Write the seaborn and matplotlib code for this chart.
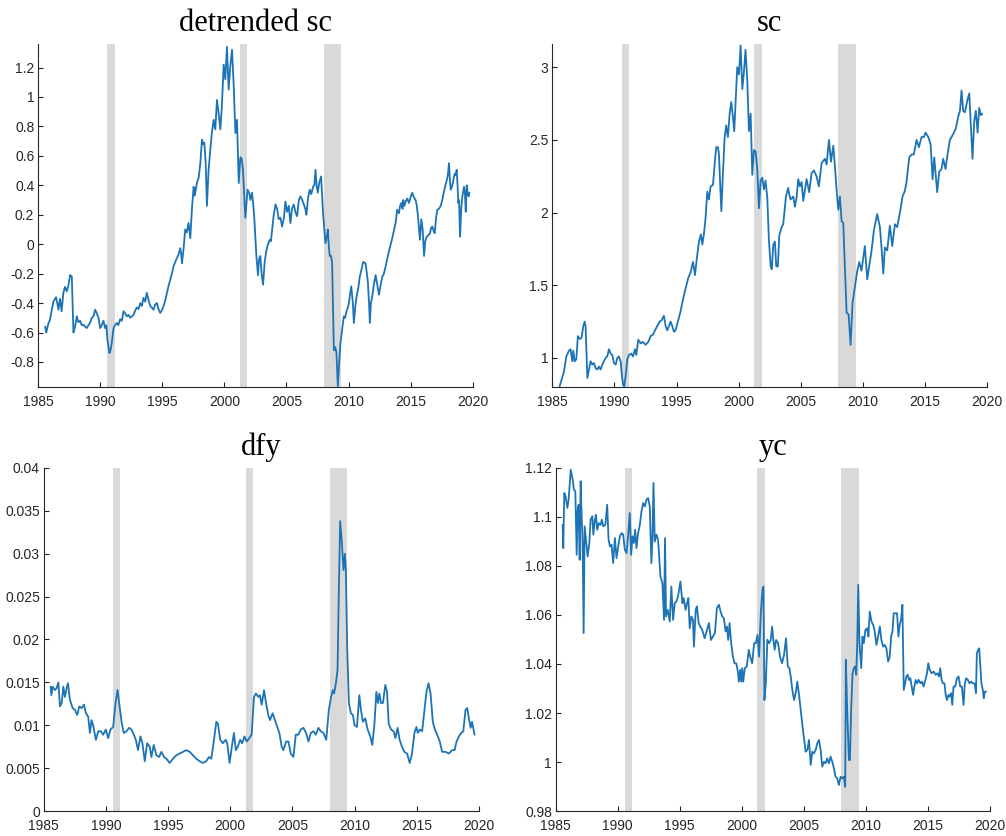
import matplotlib
matplotlib.use("Agg")
import matplotlib.pyplot as plt
import numpy as np
import pandas as pd
import seaborn as sns
from matplotlib.ticker import FuncFormatter

# ---------------------------------------------------------------- data
# detrended stock-market capitalisation (decimal year, value)
detr_t = [1985.58, 1985.66, 1985.83, 1985.97, 1986.12, 1986.24, 1986.45, 1986.55, 1986.64, 1986.77,
          1986.90, 1987.04, 1987.17, 1987.31, 1987.45, 1987.58, 1987.72, 1987.85, 1987.98, 1988.12,
          1988.25, 1988.39, 1988.52, 1988.66, 1988.80, 1988.92, 1989.06, 1989.19, 1989.33, 1989.46,
          1989.60, 1989.73, 1989.87, 1990.00, 1990.13, 1990.27, 1990.40, 1990.50, 1990.59, 1990.75,
          1990.84, 1990.94, 1991.08, 1991.20, 1991.34, 1991.47, 1991.61, 1991.75, 1991.88, 1992.02,
          1992.15, 1992.28, 1992.42, 1992.55, 1992.69, 1992.83, 1992.96, 1993.10, 1993.23, 1993.36,
          1993.49, 1993.63, 1993.76, 1993.90, 1994.03, 1994.16, 1994.30, 1994.43, 1994.57, 1994.70,
          1994.84, 1994.97, 1995.11, 1995.25, 1995.38, 1995.52, 1995.65, 1995.78, 1995.91, 1996.05,
          1996.18, 1996.32, 1996.45, 1996.52, 1996.59, 1996.72, 1996.85, 1996.98, 1997.12, 1997.26,
          1997.40, 1997.53, 1997.60, 1997.66, 1997.80, 1997.93, 1998.07, 1998.20, 1998.30, 1998.39,
          1998.50, 1998.60, 1998.73, 1998.87, 1999.00, 1999.14, 1999.27, 1999.41, 1999.54, 1999.68,
          1999.81, 1999.95, 2000.08, 2000.21, 2000.35, 2000.48, 2000.62, 2000.75, 2000.89, 2001.02,
          2001.16, 2001.29, 2001.40, 2001.50, 2001.69, 2001.87, 2002.00, 2002.10, 2002.23, 2002.32,
          2002.42, 2002.58, 2002.71, 2002.80, 2002.90, 2003.00, 2003.12, 2003.25, 2003.39, 2003.52,
          2003.66, 2003.75, 2003.85, 2003.98, 2004.12, 2004.25, 2004.38, 2004.52, 2004.65, 2004.80,
          2004.92, 2005.05, 2005.19, 2005.32, 2005.45, 2005.59, 2005.72, 2005.86, 2006.00, 2006.13,
          2006.27, 2006.40, 2006.52, 2006.61, 2006.75, 2006.88, 2007.00, 2007.15, 2007.25, 2007.34,
          2007.43, 2007.52, 2007.65, 2007.79, 2007.95, 2008.05, 2008.14, 2008.25, 2008.33, 2008.42,
          2008.49, 2008.60, 2008.68, 2008.82, 2008.93, 2009.03, 2009.14, 2009.25, 2009.35, 2009.50,
          2009.62, 2009.72, 2009.84, 2009.95, 2010.03, 2010.12, 2010.22, 2010.35, 2010.43, 2010.55,
          2010.65, 2010.78, 2010.91, 2011.05, 2011.18, 2011.37, 2011.48, 2011.56, 2011.65, 2011.72,
          2011.80, 2011.91, 2012.05, 2012.18, 2012.30, 2012.45, 2012.58, 2012.72, 2012.85, 2012.99,
          2013.12, 2013.25, 2013.40, 2013.52, 2013.65, 2013.79, 2013.92, 2014.06, 2014.15, 2014.25,
          2014.35, 2014.41, 2014.50, 2014.60, 2014.73, 2014.87, 2015.00, 2015.13, 2015.25, 2015.40,
          2015.50, 2015.59, 2015.68, 2015.75, 2015.86, 2015.97, 2016.08, 2016.18, 2016.29, 2016.42,
          2016.56, 2016.65, 2016.75, 2016.85, 2016.94, 2017.05, 2017.15, 2017.28, 2017.42, 2017.55,
          2017.69, 2017.80, 2017.90, 2018.00, 2018.09, 2018.17, 2018.23, 2018.36, 2018.45, 2018.55,
          2018.63, 2018.71, 2018.78, 2018.84, 2018.90, 2018.98, 2019.08, 2019.17, 2019.30, 2019.37,
          2019.44, 2019.52, 2019.60, 2019.68, 2019.73]
detr_v = [-0.56, -0.60, -0.54, -0.51, -0.44, -0.39, -0.36, -0.40, -0.445, -0.37,
          -0.456, -0.33, -0.29, -0.32, -0.28, -0.21, -0.22, -0.60, -0.56, -0.49,
          -0.53, -0.52, -0.55, -0.547, -0.56, -0.57, -0.55, -0.535, -0.50, -0.49,
          -0.445, -0.47, -0.50, -0.57, -0.55, -0.52, -0.57, -0.55, -0.65, -0.74,
          -0.72, -0.67, -0.57, -0.55, -0.535, -0.55, -0.51, -0.52, -0.455, -0.47,
          -0.49, -0.48, -0.50, -0.49, -0.48, -0.45, -0.43, -0.44, -0.40, -0.42,
          -0.365, -0.39, -0.33, -0.38, -0.42, -0.43, -0.445, -0.41, -0.40, -0.44,
          -0.467, -0.45, -0.42, -0.38, -0.33, -0.28, -0.24, -0.20, -0.15, -0.12,
          -0.094, -0.07, -0.027, -0.06, -0.13, -0.03, 0.10, 0.08, 0.144, 0.04,
          0.25, 0.39, 0.33, 0.35, 0.42, 0.45, 0.55, 0.71, 0.68, 0.69,
          0.55, 0.26, 0.50, 0.64, 0.76, 0.845, 0.78, 0.98, 0.89, 0.78,
          0.95, 1.22, 1.12, 1.34, 1.05, 1.21, 1.32, 1.09, 0.755, 0.845,
          0.415, 0.59, 0.58, 0.505, 0.18, 0.37, 0.35, 0.30, 0.35, 0.28,
          0.17, -0.08, -0.21, -0.10, -0.08, -0.20, -0.275, -0.12, -0.04, 0.00,
          0.03, 0.02, 0.10, 0.20, 0.27, 0.24, 0.17, 0.18, 0.12, 0.18,
          0.29, 0.22, 0.26, 0.143, 0.24, 0.27, 0.22, 0.19, 0.30, 0.325,
          0.30, 0.27, 0.24, 0.20, 0.32, 0.37, 0.34, 0.39, 0.40, 0.505,
          0.40, 0.35, 0.42, 0.46, 0.21, 0.10, 0.007, 0.05, 0.10, -0.02,
          -0.08, -0.08, -0.13, -0.72, -0.70, -0.74, -0.965, -0.80, -0.67, -0.57,
          -0.49, -0.50, -0.455, -0.43, -0.40, -0.34, -0.286, -0.40, -0.535, -0.42,
          -0.355, -0.30, -0.22, -0.17, -0.12, -0.13, -0.20, -0.26, -0.40, -0.535,
          -0.40, -0.355, -0.27, -0.21, -0.27, -0.343, -0.28, -0.22, -0.20, -0.15,
          -0.10, -0.05, 0.00, 0.04, 0.09, 0.144, 0.234, 0.21, 0.26, 0.28,
          0.24, 0.30, 0.26, 0.29, 0.31, 0.28, 0.32, 0.35, 0.32, 0.30,
          0.26, 0.19, 0.10, 0.03, 0.17, 0.10, -0.08, 0.02, 0.05, 0.06,
          0.075, 0.11, 0.12, 0.09, 0.075, 0.18, 0.234, 0.24, 0.26, 0.30,
          0.36, 0.40, 0.43, 0.47, 0.55, 0.43, 0.37, 0.40, 0.44, 0.48,
          0.47, 0.505, 0.40, 0.28, 0.30, 0.05, 0.25, 0.325, 0.39, 0.35,
          0.22, 0.40, 0.34, 0.325, 0.35]

# stock-market capitalisation
sc_t = [1985.59, 1985.75, 1985.94, 1986.13, 1986.34, 1986.47, 1986.61, 1986.69, 1986.80, 1986.93,
        1987.06, 1987.23, 1987.36, 1987.49, 1987.60, 1987.68, 1987.82, 1987.95, 1988.08, 1988.22,
        1988.35, 1988.49, 1988.62, 1988.75, 1988.89, 1989.02, 1989.16, 1989.29, 1989.42, 1989.56,
        1989.69, 1989.83, 1989.96, 1990.10, 1990.23, 1990.36, 1990.50, 1990.58, 1990.69, 1990.79,
        1990.90, 1991.03, 1991.17, 1991.36, 1991.49, 1991.65, 1991.76, 1991.92, 1992.11, 1992.29,
        1992.51, 1992.72, 1992.91, 1993.10, 1993.26, 1993.45, 1993.64, 1993.80, 1993.98, 1994.12,
        1994.25, 1994.39, 1994.52, 1994.65, 1994.79, 1994.92, 1995.14, 1995.32, 1995.51, 1995.73,
        1995.94, 1996.13, 1996.32, 1996.48, 1996.61, 1996.80, 1996.96, 1997.07, 1997.20, 1997.34,
        1997.47, 1997.60, 1997.74, 1997.93, 1998.09, 1998.19, 1998.33, 1998.41, 1998.49, 1998.60,
        1998.73, 1998.86, 1998.99, 1999.13, 1999.27, 1999.40, 1999.53, 1999.64, 1999.75, 1999.88,
        2000.02, 2000.15, 2000.29, 2000.42, 2000.55, 2000.69, 2000.82, 2000.96, 2001.09, 2001.22,
        2001.36, 2001.49, 2001.63, 2001.76, 2001.89, 2002.03, 2002.16, 2002.30, 2002.43, 2002.57,
        2002.66, 2002.78, 2002.91, 2003.02, 2003.15, 2003.26, 2003.45, 2003.58, 2003.80, 2003.98,
        2004.08, 2004.17, 2004.39, 2004.52, 2004.65, 2004.79, 2004.92, 2005.06, 2005.19, 2005.32,
        2005.46, 2005.67, 2005.86, 2006.05, 2006.26, 2006.45, 2006.67, 2006.93, 2007.07, 2007.26,
        2007.42, 2007.61, 2007.74, 2007.87, 2008.01, 2008.14, 2008.28, 2008.41, 2008.54, 2008.68,
        2008.84, 2009.00, 2009.16, 2009.35, 2009.54, 2009.70, 2009.88, 2010.15, 2010.34, 2010.50,
        2010.69, 2010.88, 2011.14, 2011.36, 2011.49, 2011.63, 2011.76, 2011.95, 2012.16, 2012.35,
        2012.57, 2012.75, 2012.97, 2013.18, 2013.37, 2013.50, 2013.72, 2013.91, 2014.09, 2014.31,
        2014.50, 2014.71, 2014.90, 2015.03, 2015.25, 2015.44, 2015.60, 2015.73, 2015.97, 2016.13,
        2016.32, 2016.45, 2016.64, 2016.80, 2016.99, 2017.26, 2017.47, 2017.66, 2017.80, 2017.93,
        2018.06, 2018.20, 2018.39, 2018.55, 2018.68, 2018.81, 2018.95, 2019.08, 2019.22, 2019.35,
        2019.49, 2019.59]
sc_v = [0.805, 0.85, 0.908, 1.01, 1.05, 1.06, 0.977, 1.05, 0.977, 0.99,
        1.15, 1.13, 1.14, 1.217, 1.25, 1.217, 0.862, 0.92, 0.977, 0.954,
        0.965, 0.93, 0.92, 0.94, 0.92, 0.954, 0.977, 1.00, 1.01, 1.06,
        1.03, 1.02, 0.965, 0.954, 1.00, 1.01, 0.977, 0.897, 0.817, 0.805,
        0.874, 0.99, 1.02, 1.03, 1.01, 1.06, 1.02, 1.125, 1.10, 1.11,
        1.09, 1.11, 1.15, 1.16, 1.19, 1.22, 1.25, 1.26, 1.29, 1.22,
        1.19, 1.22, 1.25, 1.22, 1.18, 1.19, 1.26, 1.32, 1.40, 1.48,
        1.55, 1.59, 1.66, 1.57, 1.67, 1.80, 1.85, 1.78, 1.85, 1.97,
        2.145, 2.09, 2.18, 2.19, 2.36, 2.45, 2.45, 2.40, 2.23, 2.01,
        2.27, 2.51, 2.60, 2.52, 2.68, 2.76, 2.66, 2.56, 2.76, 3.00,
        2.95, 3.15, 2.85, 2.97, 3.12, 2.91, 2.56, 2.68, 2.26, 2.43,
        2.42, 2.30, 2.03, 2.22, 2.24, 2.16, 2.22, 2.10, 1.81, 1.63,
        1.61, 1.78, 1.80, 1.63, 1.63, 1.84, 1.90, 1.92, 2.11, 2.17,
        2.12, 2.09, 2.11, 2.04, 2.10, 2.23, 2.18, 2.21, 2.08, 2.15,
        2.23, 2.14, 2.27, 2.29, 2.25, 2.18, 2.34, 2.37, 2.33, 2.50,
        2.35, 2.46, 2.32, 2.16, 2.02, 2.11, 1.94, 1.93, 1.63, 1.31,
        1.30, 1.09, 1.38, 1.49, 1.60, 1.66, 1.60, 1.77, 1.54, 1.63,
        1.74, 1.88, 1.99, 1.90, 1.76, 1.58, 1.76, 1.74, 1.91, 1.77,
        1.92, 1.90, 2.00, 2.11, 2.15, 2.21, 2.38, 2.40, 2.40, 2.50,
        2.45, 2.52, 2.52, 2.55, 2.52, 2.47, 2.23, 2.38, 2.14, 2.28,
        2.30, 2.37, 2.30, 2.40, 2.50, 2.54, 2.58, 2.66, 2.70, 2.84,
        2.70, 2.69, 2.77, 2.82, 2.59, 2.37, 2.63, 2.70, 2.55, 2.72,
        2.67, 2.68]

# default yield spread
dfy_t = [1985.56, 1985.62, 1985.72, 1985.90, 1986.03, 1986.18, 1986.31, 1986.45, 1986.58, 1986.71,
         1986.84, 1986.95, 1987.11, 1987.33, 1987.51, 1987.70, 1987.86, 1988.05, 1988.24, 1988.40,
         1988.58, 1988.72, 1988.85, 1988.98, 1989.20, 1989.39, 1989.60, 1989.79, 1990.00, 1990.19,
         1990.37, 1990.59, 1990.78, 1990.94, 1991.07, 1991.26, 1991.44, 1991.66, 1991.87, 1992.06,
         1992.25, 1992.41, 1992.59, 1992.78, 1992.94, 1993.13, 1993.32, 1993.53, 1993.66, 1993.85,
         1994.06, 1994.28, 1994.47, 1994.68, 1994.87, 1995.13, 1995.40, 1995.67, 1995.94, 1996.20,
         1996.47, 1996.74, 1997.01, 1997.27, 1997.54, 1997.81, 1998.07, 1998.29, 1998.48, 1998.66,
         1998.88, 1999.01, 1999.20, 1999.41, 1999.63, 1999.76, 1999.95, 2000.13, 2000.30, 2000.45,
         2000.61, 2000.80, 2000.96, 2001.15, 2001.32, 2001.53, 2001.72, 2001.91, 2002.07, 2002.26,
         2002.39, 2002.53, 2002.72, 2002.88, 2003.06, 2003.20, 2003.41, 2003.60, 2003.79, 2003.95,
         2004.14, 2004.27, 2004.49, 2004.68, 2004.87, 2005.08, 2005.27, 2005.48, 2005.67, 2005.89,
         2006.10, 2006.29, 2006.48, 2006.69, 2006.88, 2007.10, 2007.28, 2007.50, 2007.72, 2007.93,
         2008.11, 2008.25, 2008.35, 2008.52, 2008.63, 2008.73, 2008.84, 2008.98, 2009.11, 2009.22,
         2009.30, 2009.41, 2009.54, 2009.70, 2009.86, 2010.00, 2010.19, 2010.38, 2010.51, 2010.67,
         2010.86, 2011.05, 2011.26, 2011.42, 2011.59, 2011.75, 2011.88, 2011.99, 2012.12, 2012.28,
         2012.47, 2012.61, 2012.74, 2012.93, 2013.14, 2013.28, 2013.46, 2013.62, 2013.81, 2014.00,
         2014.22, 2014.43, 2014.62, 2014.81, 2014.97, 2015.08, 2015.24, 2015.43, 2015.62, 2015.78,
         2015.94, 2016.11, 2016.29, 2016.46, 2016.64, 2016.85, 2017.04, 2017.31, 2017.58, 2017.85,
         2018.04, 2018.20, 2018.39, 2018.58, 2018.74, 2018.92, 2019.06, 2019.19, 2019.33, 2019.44,
         2019.54, 2019.65]
dfy_v = [0.0145, 0.0135, 0.0145, 0.0141, 0.0143, 0.0150, 0.0122, 0.0126, 0.0145, 0.0133,
         0.0143, 0.0149, 0.0130, 0.0120, 0.0118, 0.0112, 0.0122, 0.0120, 0.0124, 0.0114,
         0.0110, 0.0091, 0.0106, 0.0100, 0.0083, 0.0093, 0.0093, 0.0089, 0.0095, 0.0085,
         0.0095, 0.0098, 0.0126, 0.0141, 0.0126, 0.0104, 0.0091, 0.0093, 0.0097, 0.0095,
         0.0089, 0.0083, 0.0071, 0.0087, 0.0079, 0.0058, 0.0079, 0.0075, 0.0063, 0.0077,
         0.0065, 0.0063, 0.0069, 0.0063, 0.0061, 0.0056, 0.0061, 0.0065, 0.0067, 0.0069,
         0.0071, 0.0069, 0.0065, 0.0061, 0.0058, 0.0056, 0.0058, 0.0063, 0.0061, 0.0079,
         0.0104, 0.0102, 0.0083, 0.0079, 0.0083, 0.0079, 0.0056, 0.0075, 0.0091, 0.0071,
         0.0075, 0.0083, 0.0079, 0.0087, 0.0081, 0.0085, 0.0089, 0.0133, 0.0137, 0.0133,
         0.0135, 0.0124, 0.0141, 0.0126, 0.0112, 0.0106, 0.0114, 0.0106, 0.0098, 0.0091,
         0.0075, 0.0071, 0.0081, 0.0081, 0.0067, 0.0063, 0.0089, 0.0089, 0.0095, 0.0097,
         0.0091, 0.0081, 0.0091, 0.0093, 0.0089, 0.0097, 0.0093, 0.0091, 0.0083, 0.0118,
         0.0133, 0.0141, 0.0137, 0.0151, 0.0165, 0.0254, 0.0338, 0.0312, 0.0281, 0.0300,
         0.0281, 0.0188, 0.0126, 0.0114, 0.0112, 0.0100, 0.0098, 0.0135, 0.0118, 0.0104,
         0.0108, 0.0095, 0.0087, 0.0077, 0.0100, 0.0139, 0.0126, 0.0137, 0.0126, 0.0126,
         0.0147, 0.0139, 0.0102, 0.0095, 0.0093, 0.0085, 0.0097, 0.0083, 0.0075, 0.0069,
         0.0067, 0.0056, 0.0067, 0.0091, 0.0098, 0.0091, 0.0095, 0.0093, 0.0118, 0.0139,
         0.0149, 0.0137, 0.0104, 0.0095, 0.0089, 0.0081, 0.0069, 0.0069, 0.0067, 0.0071,
         0.0071, 0.0081, 0.0087, 0.0091, 0.0093, 0.0118, 0.0120, 0.0108, 0.0097, 0.0104,
         0.0097, 0.0089]

# yield curve
yc_t = [1985.56, 1985.61, 1985.69, 1985.80, 1985.94, 1986.04, 1986.21, 1986.37, 1986.47, 1986.58,
        1986.69, 1986.77, 1986.85, 1986.93, 1987.01, 1987.09, 1987.17, 1987.25, 1987.33, 1987.44,
        1987.57, 1987.71, 1987.81, 1987.95, 1988.03, 1988.16, 1988.24, 1988.35, 1988.48, 1988.62,
        1988.72, 1988.83, 1989.00, 1989.15, 1989.26, 1989.37, 1989.50, 1989.63, 1989.77, 1989.90,
        1990.04, 1990.17, 1990.30, 1990.44, 1990.57, 1990.71, 1990.84, 1990.97, 1991.08, 1991.19,
        1991.30, 1991.40, 1991.51, 1991.64, 1991.78, 1991.91, 1992.05, 1992.18, 1992.31, 1992.45,
        1992.58, 1992.71, 1992.80, 1992.88, 1992.98, 1993.12, 1993.25, 1993.44, 1993.60, 1993.73,
        1993.81, 1993.89, 1994.03, 1994.19, 1994.32, 1994.46, 1994.59, 1994.72, 1994.86, 1995.05,
        1995.21, 1995.31, 1995.47, 1995.58, 1995.69, 1995.80, 1995.93, 1996.06, 1996.14, 1996.28,
        1996.38, 1996.52, 1996.65, 1996.81, 1997.00, 1997.19, 1997.35, 1997.51, 1997.67, 1997.83,
        1997.99, 1998.15, 1998.29, 1998.42, 1998.55, 1998.69, 1998.80, 1998.90, 1999.01, 1999.14,
        1999.28, 1999.41, 1999.55, 1999.68, 1999.76, 1999.87, 1999.95, 2000.03, 2000.11, 2000.24,
        2000.40, 2000.56, 2000.67, 2000.83, 2000.99, 2001.13, 2001.26, 2001.39, 2001.53, 2001.66,
        2001.74, 2001.82, 2001.93, 2002.06, 2002.20, 2002.33, 2002.44, 2002.54, 2002.65, 2002.76,
        2002.92, 2003.08, 2003.24, 2003.40, 2003.56, 2003.70, 2003.83, 2003.94, 2004.07, 2004.21,
        2004.34, 2004.47, 2004.61, 2004.74, 2004.88, 2005.01, 2005.14, 2005.28, 2005.41, 2005.55,
        2005.68, 2005.81, 2005.95, 2006.08, 2006.22, 2006.35, 2006.48, 2006.62, 2006.75, 2006.88,
        2007.02, 2007.15, 2007.29, 2007.42, 2007.55, 2007.69, 2007.82, 2007.96, 2008.09, 2008.22,
        2008.33, 2008.38, 2008.49, 2008.63, 2008.71, 2008.81, 2008.92, 2009.03, 2009.13, 2009.22,
        2009.30, 2009.38, 2009.48, 2009.62, 2009.72, 2009.83, 2009.96, 2010.10, 2010.20, 2010.31,
        2010.45, 2010.58, 2010.69, 2010.85, 2010.98, 2011.12, 2011.25, 2011.39, 2011.52, 2011.65,
        2011.79, 2011.92, 2012.03, 2012.14, 2012.24, 2012.38, 2012.51, 2012.62, 2012.72, 2012.83,
        2012.94, 2013.05, 2013.15, 2013.26, 2013.37, 2013.47, 2013.58, 2013.69, 2013.80, 2013.90,
        2014.01, 2014.12, 2014.25, 2014.39, 2014.52, 2014.65, 2014.79, 2014.92, 2015.03, 2015.14,
        2015.30, 2015.46, 2015.62, 2015.78, 2015.89, 2015.99, 2016.10, 2016.21, 2016.33, 2016.43,
        2016.54, 2016.65, 2016.75, 2016.86, 2016.96, 2017.06, 2017.20, 2017.33, 2017.47, 2017.60,
        2017.73, 2017.87, 2017.97, 2018.08, 2018.22, 2018.35, 2018.49, 2018.62, 2018.76, 2018.87,
        2018.94, 2019.05, 2019.13, 2019.21, 2019.31, 2019.42, 2019.50, 2019.58, 2019.69]
yc_v = [1.0968, 1.0873, 1.1098, 1.1084, 1.1037, 1.1071, 1.1193, 1.1152, 1.1111, 1.1105,
        1.0846, 1.1030, 1.1050, 1.0825, 1.1146, 1.1003, 1.0894, 1.0526, 1.0962, 1.0907,
        1.0839, 1.0894, 1.0989, 1.1003, 1.0928, 1.0989, 1.1009, 1.0948, 1.0975, 1.0968,
        1.0989, 1.0962, 1.0968, 1.1050, 1.0907, 1.0880, 1.0887, 1.0812, 1.0914, 1.0832,
        1.0880, 1.0921, 1.0934, 1.0928, 1.0866, 1.0853, 1.0928, 1.1016, 1.0846, 1.0921,
        1.0894, 1.0948, 1.0873, 1.0934, 1.0968, 1.1023, 1.1057, 1.1043, 1.1071, 1.1077,
        1.1043, 1.0812, 1.0921, 1.1139, 1.0900, 1.0928, 1.0907, 1.0757, 1.0730, 1.0580,
        1.0914, 1.0594, 1.0621, 1.0573, 1.0716, 1.0580, 1.0648, 1.0655, 1.0676, 1.0737,
        1.0648, 1.0669, 1.0621, 1.0648, 1.0669, 1.0546, 1.0594, 1.0580, 1.0471, 1.0621,
        1.0635, 1.0567, 1.0553, 1.0539, 1.0505, 1.0539, 1.0567, 1.0498, 1.0512, 1.0526,
        1.0628, 1.0642, 1.0614, 1.0594, 1.0587, 1.0533, 1.0553, 1.0498, 1.0567, 1.0485,
        1.0430, 1.0403, 1.0403, 1.0369, 1.0328, 1.0376, 1.0328, 1.0383, 1.0328, 1.0383,
        1.0390, 1.0458, 1.0430, 1.0403, 1.0485, 1.0485, 1.0519, 1.0430, 1.0608, 1.0703,
        1.0716, 1.0253, 1.0321, 1.0499, 1.0485, 1.0498, 1.0553, 1.0498, 1.0458, 1.0498,
        1.0485, 1.0430, 1.0403, 1.0437, 1.0505, 1.0390, 1.0383, 1.0349, 1.0294, 1.0253,
        1.0281, 1.0328, 1.0274, 1.0213, 1.0151, 1.0097, 1.0042, 1.0049, 1.0090, 0.9988,
        1.0042, 1.0035, 1.0049, 1.0076, 1.0090, 1.0049, 0.9981, 1.0001, 0.9995, 1.0015,
        0.9995, 1.0022, 1.0001, 0.9974, 0.9940, 0.9933, 0.9906, 0.9940, 0.9933, 0.9940,
        0.9899, 1.0417, 1.0213, 1.0008, 1.0008, 1.0213, 1.0362, 1.0383, 1.0390, 1.0356,
        1.0485, 1.0723, 1.0485, 1.0383, 1.0512, 1.0485, 1.0539, 1.0546, 1.0512, 1.0614,
        1.0573, 1.0560, 1.0539, 1.0478, 1.0512, 1.0553, 1.0498, 1.0471, 1.0478, 1.0464,
        1.0410, 1.0430, 1.0512, 1.0533, 1.0607, 1.0607, 1.0607, 1.0512, 1.0560, 1.0580,
        1.0642, 1.0294, 1.0321, 1.0349, 1.0356, 1.0335, 1.0342, 1.0308, 1.0274, 1.0308,
        1.0335, 1.0321, 1.0335, 1.0321, 1.0328, 1.0308, 1.0335, 1.0362, 1.0403, 1.0376,
        1.0362, 1.0369, 1.0356, 1.0362, 1.0349, 1.0383, 1.0335, 1.0321, 1.0321, 1.0274,
        1.0253, 1.0274, 1.0267, 1.0281, 1.0233, 1.0308, 1.0308, 1.0342, 1.0349, 1.0308,
        1.0308, 1.0233, 1.0321, 1.0342, 1.0335, 1.0321, 1.0328, 1.0321, 1.0321, 1.0281,
        1.0444, 1.0458, 1.0464, 1.0403, 1.0321, 1.0294, 1.0260, 1.0287, 1.0287]

# NBER recessions (start, end) in decimal years
recession_start = [1990.583, 2001.25, 2008.0]
recession_end = [1991.167, 2001.833, 2009.417]

year_ticks = [1985, 1990, 1995, 2000, 2005, 2010, 2015, 2020]
detr_ticks = [-0.8, -0.6, -0.4, -0.2, 0, 0.2, 0.4, 0.6, 0.8, 1, 1.2]
sc_ticks = [1, 1.5, 2, 2.5, 3]
dfy_ticks = [0, 0.005, 0.01, 0.015, 0.02, 0.025, 0.03, 0.035, 0.04]
yc_ticks = [0.98, 1, 1.02, 1.04, 1.06, 1.08, 1.1, 1.12]

# ---------------------------------------------------------------- style
sns.set_style("ticks")
plt.rcParams["font.family"] = ["Liberation Sans", "DejaVu Sans"]
plt.rcParams["axes.unicode_minus"] = False

LINE = "#1c74b6"
SHADE = "#d9d9d9"
AXC = "#262626"

fig = plt.figure(figsize=(10.06, 8.36), dpi=100)

panels = [
    ("detrended sc", detr_t, detr_v, [0.0378, 0.5371, 0.4321, 0.4103], (-0.97, 1.36), detr_ticks),
    ("sc", sc_t, sc_v, [0.5490, 0.5371, 0.4324, 0.4103], (0.80, 3.16), sc_ticks),
    ("dfy", dfy_t, dfy_v, [0.0434, 0.0299, 0.4327, 0.4103], (0.0, 0.04), dfy_ticks),
    ("yc", yc_t, yc_v, [0.5524, 0.0299, 0.4317, 0.4103], (0.98, 1.12), yc_ticks),
]

fmt = FuncFormatter(lambda x, _: "0" if abs(x) < 1e-12 else f"{x:g}")

for title, t, v, rect, ylim, yticks in panels:
    ax = fig.add_axes(rect)
    for s, e in zip(recession_start, recession_end):
        ax.axvspan(s, e, color=SHADE, lw=0, zorder=0)
    df = pd.DataFrame({"year": t, "value": v})
    sns.lineplot(data=df, x="year", y="value", ax=ax, color=LINE,
                 linewidth=1.3, estimator=None, sort=False, zorder=3)
    ax.set_xlim(1985, 2020)
    ax.set_ylim(*ylim)
    ax.set_xticks(year_ticks)
    ax.set_yticks(yticks)
    ax.yaxis.set_major_formatter(fmt)
    ax.set_xlabel("")
    ax.set_ylabel("")
    ax.set_title(title, fontfamily="Liberation Serif", fontsize=22, pad=9, color="black")
    for side in ("top", "right"):
        ax.spines[side].set_visible(False)
    for side in ("left", "bottom"):
        ax.spines[side].set_color(AXC)
        ax.spines[side].set_linewidth(0.8)
    ax.tick_params(axis="both", direction="in", length=3.5, width=0.8,
                   colors=AXC, labelsize=10)
    ax.tick_params(axis="x", pad=5.5)
    ax.tick_params(axis="y", pad=2.7)

fig.savefig("out.png", dpi=100)
